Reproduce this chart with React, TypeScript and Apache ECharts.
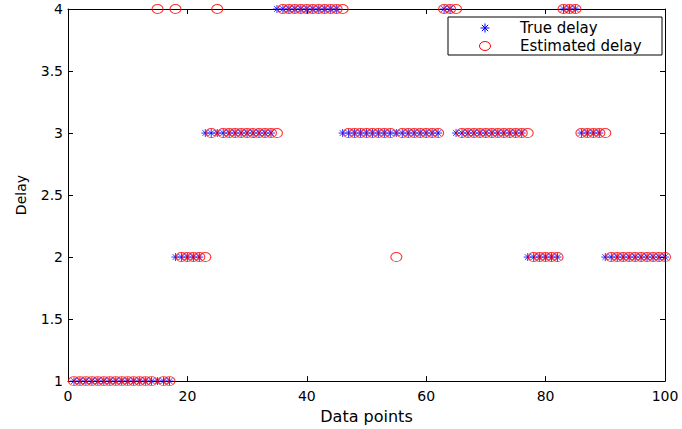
import React, { useEffect, useRef } from "react";
import * as echarts from "echarts";

const xPoints: number[] = Array.from({ length: 100 }, (_, i) => i + 1);

const trueDelay: number[] = [
  1, 1, 1, 1, 1, 1, 1, 1, 1, 1,
  1, 1, 1, 1, 1, 1, 1, 2, 2, 2,
  2, 2, 3, 3, 3, 3, 3, 3, 3, 3,
  3, 3, 3, 3, 4, 4, 4, 4, 4, 4,
  4, 4, 4, 4, 4, 3, 3, 3, 3, 3,
  3, 3, 3, 3, 3, 3, 3, 3, 3, 3,
  3, 3, 4, 4, 3, 3, 3, 3, 3, 3,
  3, 3, 3, 3, 3, 3, 2, 2, 2, 2,
  2, 2, 4, 4, 4, 3, 3, 3, 3, 2,
  2, 2, 2, 2, 2, 2, 2, 2, 2, 2,
];

const estimatedDelay: number[] = [
  1, 1, 1, 1, 1, 1, 1, 1, 1, 1,
  1, 1, 1, 1, 4, 1, 1, 4, 2, 2,
  2, 2, 2, 3, 4, 3, 3, 3, 3, 3,
  3, 3, 3, 3, 3, 4, 4, 4, 4, 4,
  4, 4, 4, 4, 4, 4, 3, 3, 3, 3,
  3, 3, 3, 3, 2, 3, 3, 3, 3, 3,
  3, 3, 4, 4, 4, 3, 3, 3, 3, 3,
  3, 3, 3, 3, 3, 3, 3, 2, 2, 2,
  2, 2, 4, 4, 4, 3, 3, 3, 3, 3,
  2, 2, 2, 2, 2, 2, 2, 2, 2, 2,
];

const seriesNames: string[] = ["True delay", "Estimated delay"];
const xAxisName = "Data points";
const yAxisName = "Delay";

const STAR = "path://M0,4 L8,4 M4,0 L4,8 M1.2,1.2 L6.8,6.8 M1.2,6.8 L6.8,1.2";
const CIRCLE = "path://M10,5 A5,5 0 1,1 0,5 A5,5 0 1,1 10,5 Z";
const FONT = "DejaVu Sans";
const BLUE = "#0000ff";
const RED = "#ff0000";

function starLines(cx: number, cy: number, r: number) {
  const d = r * 0.7;
  const seg = (x1: number, y1: number, x2: number, y2: number) => ({
    type: "line",
    shape: { x1, y1, x2, y2 },
    style: { stroke: BLUE, lineWidth: 1 },
  });
  return [
    seg(cx - r, cy, cx + r, cy),
    seg(cx, cy - r, cx, cy + r),
    seg(cx - d, cy - d, cx + d, cy + d),
    seg(cx - d, cy + d, cx + d, cy - d),
  ];
}

export default function App() {
  const ref = useRef<HTMLDivElement>(null);
  useEffect(() => {
    if (!ref.current) return;
    const chart = echarts.init(ref.current, undefined, { renderer: "svg" });
    const axisCommon = {
      axisLine: { show: true, onZero: false, lineStyle: { color: "#000", width: 1 } },
      axisTick: { show: true, inside: true, length: 5, lineStyle: { color: "#000" } },
      splitLine: { show: false },
    };
    const legendX = 448;
    const legendY = 17;
    const row1 = legendY + 11;
    const row2 = legendY + 29;
    chart.setOption({
      animation: false,
      backgroundColor: "#fff",
      grid: { left: 68, right: 17, top: 9, bottom: 45, containLabel: false },
      graphic: [
        {
          type: "group",
          z: 100,
          children: [
            {
              type: "rect",
              shape: { x: legendX, y: legendY, width: 214, height: 38 },
              style: { fill: "#fff", stroke: "#000", lineWidth: 1 },
            },
            ...starLines(legendX + 37, row1, 4.5),
            {
              type: "ellipse",
              shape: { cx: legendX + 37, cy: row2, rx: 5.5, ry: 4.5 },
              style: { fill: "none", stroke: RED, lineWidth: 1 },
            },
            {
              type: "text",
              x: legendX + 72,
              y: row1,
              style: {
                text: seriesNames[0],
                font: `15px "${FONT}"`,
                fill: "#000",
                verticalAlign: "middle",
              },
            },
            {
              type: "text",
              x: legendX + 72,
              y: row2,
              style: {
                text: seriesNames[1],
                font: `15px "${FONT}"`,
                fill: "#000",
                verticalAlign: "middle",
              },
            },
          ],
        },
      ],
      xAxis: [
        {
          type: "value",
          min: 0,
          max: 100,
          interval: 20,
          position: "bottom",
          name: xAxisName,
          nameLocation: "middle",
          nameGap: 21,
          nameTextStyle: { fontFamily: FONT, fontSize: 16, color: "#000" },
          axisLabel: { fontFamily: FONT, fontSize: 14, color: "#000", margin: 8 },
          ...axisCommon,
        },
        {
          type: "value",
          min: 0,
          max: 100,
          interval: 20,
          position: "top",
          axisLabel: { show: false },
          ...axisCommon,
        },
      ],
      yAxis: [
        {
          type: "value",
          min: 1,
          max: 4,
          interval: 0.5,
          position: "left",
          name: yAxisName,
          nameLocation: "middle",
          nameGap: 40,
          nameTextStyle: { fontFamily: FONT, fontSize: 14, color: "#000" },
          axisLabel: { fontFamily: FONT, fontSize: 14, color: "#000", margin: 5 },
          ...axisCommon,
        },
        {
          type: "value",
          min: 1,
          max: 4,
          interval: 0.5,
          position: "right",
          axisLabel: { show: false },
          ...axisCommon,
        },
      ],
      series: [
        {
          name: seriesNames[0],
          type: "scatter",
          xAxisIndex: 0,
          yAxisIndex: 0,
          symbol: STAR,
          symbolSize: [8, 8],
          itemStyle: { color: "none", borderColor: BLUE, borderWidth: 1 },
          data: xPoints.map((x, i) => [x, trueDelay[i]]),
          z: 2,
        },
        {
          name: seriesNames[1],
          type: "scatter",
          xAxisIndex: 0,
          yAxisIndex: 0,
          symbol: CIRCLE,
          symbolSize: [11, 9],
          itemStyle: { color: "none", borderColor: RED, borderWidth: 1 },
          data: xPoints.map((x, i) => [x, estimatedDelay[i]]),
          z: 3,
        },
      ],
    });
    return () => chart.dispose();
  }, []);
  return (
    <div
      ref={ref}
      style={{ position: "fixed", left: 0, top: 0, width: 682, height: 429 }}
    />
  );
}
